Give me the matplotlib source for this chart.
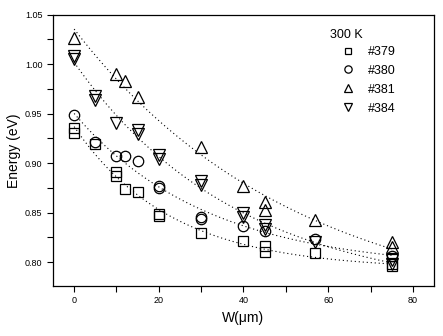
import numpy as np
import matplotlib
matplotlib.use("Agg")
import matplotlib.pyplot as plt
from matplotlib.ticker import MultipleLocator

plt.rcParams['font.family'] = ['Liberation Sans', 'DejaVu Sans']

# W (um) and energies (eV)
x379 = [0, 0, 5, 10, 10, 12, 15, 20, 20, 30, 40, 45, 45, 57, 75, 75]
y379 = [0.936, 0.931, 0.919, 0.891, 0.887, 0.874, 0.871, 0.849, 0.847, 0.830, 0.821, 0.816, 0.810, 0.809, 0.798, 0.796]

x380 = [0, 5, 10, 12, 15, 20, 20, 30, 30, 40, 45, 57, 75]
y380 = [0.949, 0.921, 0.907, 0.907, 0.902, 0.877, 0.875, 0.846, 0.844, 0.837, 0.832, 0.823, 0.806]

x381 = [0, 10, 12, 15, 30, 40, 45, 45, 57, 75, 75]
y381 = [1.026, 0.990, 0.983, 0.967, 0.916, 0.877, 0.861, 0.853, 0.843, 0.820, 0.815]

x384 = [0, 0, 5, 5, 10, 15, 15, 20, 20, 30, 30, 40, 40, 45, 45, 57, 75, 75]
y384 = [1.008, 1.005, 0.968, 0.964, 0.941, 0.934, 0.930, 0.908, 0.904, 0.882, 0.878, 0.850, 0.846, 0.838, 0.834, 0.820, 0.802, 0.798]

labels = ["#379", "#380", "#381", "#384"]
markers = ["s", "o", "^", "v"]
legend_title = "300 K"
x_ticks = [0, 20, 40, 60, 80]
y_ticks = [0.80, 0.85, 0.90, 0.95, 1.00, 1.05]


def expfit(x, y):
    x = np.asarray(x, float)
    y = np.asarray(y, float)
    best = None
    for t in np.arange(5, 300, 0.5):
        M = np.column_stack([np.ones_like(x), np.exp(-x / t)])
        c, res, *_ = np.linalg.lstsq(M, y, rcond=None)
        r = np.sum((M @ c - y) ** 2)
        if best is None or r < best[0]:
            best = (r, t, c)
    _, t, c = best
    xf = np.linspace(0, 75, 200)
    return xf, c[0] + c[1] * np.exp(-xf / t)


fig = plt.figure(figsize=(4.43, 3.36), dpi=100)
ax = fig.add_axes([0.1196, 0.1488, 0.8601, 0.8074])

series = [(x379, y379), (x380, y380), (x381, y381), (x384, y384)]
sizes = [6.5, 7.5, 8.5, 8.5]
for (xs, ys), m, lab, ms in zip(series, markers, labels, sizes):
    xf, yf = expfit(xs, ys)
    ax.plot(xf, yf, linestyle=(0, (1, 2.6)), color='black', linewidth=0.8)
    ax.plot(xs, ys, linestyle='none', marker=m, markersize=ms,
            markerfacecolor='none', markeredgecolor='black', markeredgewidth=0.9,
            label=lab)

ax.set_xlim(-5, 85)
ax.set_ylim(0.776, 1.05)
ax.set_xticks(x_ticks)
ax.set_yticks(y_ticks)
ax.yaxis.set_major_formatter(matplotlib.ticker.FormatStrFormatter('%.2f'))
ax.xaxis.set_minor_locator(MultipleLocator(10))
ax.yaxis.set_minor_locator(MultipleLocator(0.025))
ax.tick_params(which='both', direction='out', top=False, right=False, labelsize=6.5,
               width=0.8)
ax.tick_params(which='major', length=4)
ax.tick_params(which='minor', length=4)
for s in ax.spines.values():
    s.set_linewidth(0.9)

ax.set_xlabel("W(\u03bcm)", fontsize=10, labelpad=4)
ax.set_ylabel("Energy (eV)", fontsize=10, labelpad=3)

ax.text(0.727, 0.925, legend_title, transform=ax.transAxes, fontsize=9,
        ha='left', va='center')
handles, labs = ax.get_legend_handles_labels()
leg = ax.legend(handles, labs, loc='upper left',
                bbox_to_anchor=(0.748, 0.894), frameon=False, fontsize=9,
                markerscale=0.7, handlelength=1.2,
                handletextpad=1.0, labelspacing=0.55, borderpad=0.2,
                borderaxespad=0.0)

fig.savefig("out.png", dpi=100)
